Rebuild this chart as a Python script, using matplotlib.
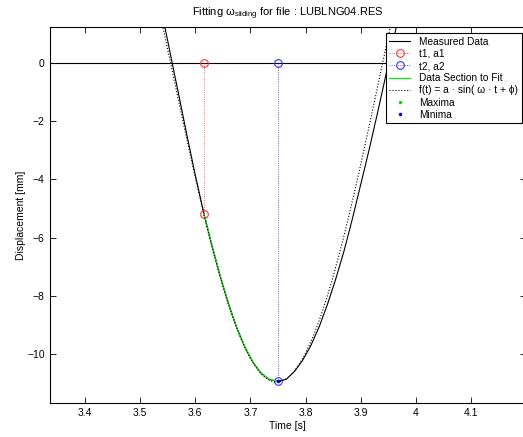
import numpy as np
import matplotlib
matplotlib.use("Agg")
import matplotlib.pyplot as plt

plt.rcParams['font.family'] = ['Liberation Sans', 'DejaVu Sans']
plt.rcParams['mathtext.fontset'] = 'custom'
plt.rcParams['mathtext.rm'] = 'Liberation Sans'
plt.rcParams['mathtext.it'] = 'Liberation Sans:italic'

# measured displacement
time_s = [3.530, 3.540, 3.545, 3.550, 3.558, 3.570, 3.585, 3.600, 3.616, 3.630, 3.645,
          3.660, 3.675, 3.690, 3.705, 3.720, 3.735, 3.750, 3.765, 3.780, 3.795,
          3.810, 3.825, 3.840, 3.855, 3.870, 3.885, 3.900, 3.915, 3.930, 3.945,
          3.960, 3.975, 3.990]
disp_mm = [2.60, 1.70, 1.20, 0.75, 0.00, -1.10, -2.50, -3.85, -5.20, -6.25, -7.30,
           -8.25, -9.07, -9.75, -10.28, -10.66, -10.87, -10.92, -10.86, -10.59, -10.20,
           -9.69, -9.05, -8.28, -7.41, -6.45, -5.36, -4.19, -3.02, -1.78, -0.50,
           0.81, 2.10, 3.30]

# fit section bounds
t1, a1 = 3.616, -5.20
t2, a2 = 3.750, -10.92

# fitted sine parameters f(t) = a*sin(w*t + phi)
fit_a = 10.95
fit_w = 8.16
fit_phi = -np.pi / 2 - fit_w * 3.7475

maxima_t, maxima_y = [], []
minima_t, minima_y = [3.750], [-10.92]

fig = plt.figure(figsize=(5.23, 4.37), dpi=100)
ax = fig.add_axes([49.5 / 523, (437 - 403.3) / 437, (526 - 49.5) / 523, (403.3 - 27.3) / 437])
ax.set_xlim(3.3356, 4.2)
ax.set_ylim(-11.68, 1.21)

ax.axhline(0, color='k', lw=0.8, zorder=1)

t_arr = np.array(time_s)
y_arr = np.array(disp_mm)
ax.plot(t_arr, y_arr, color='k', lw=0.8, label='Measured Data')
ax.plot([t1, t1], [0, a1], ':', color='#ff3333', lw=0.6, marker='o', markersize=5.5,
        markerfacecolor='none', markeredgewidth=0.8, label='t1, a1')
ax.plot([t2, t2], [0, a2], ':', color='#3333ff', lw=0.6, marker='o', markersize=5.5,
        markerfacecolor='none', markeredgewidth=0.8, label='t2, a2')
sec = (t_arr >= t1) & (t_arr <= t2)
ax.plot(t_arr[sec], y_arr[sec], color='#22dd22', lw=1.0, label='Data Section to Fit')

tf = np.linspace(3.3356, 4.2, 400)
ax.plot(tf, fit_a * np.sin(fit_w * tf + fit_phi), ':', color='k', lw=0.8,
        label='f(t) = a · sin( ω · t + ϕ)')
ax.plot(maxima_t, maxima_y, '.', color='#00dd00', markersize=3, label='Maxima')
ax.plot(minima_t, minima_y, '.', color='blue', markersize=3, label='Minima')

ax.set_xticks([3.4, 3.5, 3.6, 3.7, 3.8, 3.9, 4.0, 4.1])
ax.set_xticklabels(['3.4', '3.5', '3.6', '3.7', '3.8', '3.9', '4', '4.1'])
ax.set_yticks([-10, -8, -6, -4, -2, 0])
ax.set_yticklabels(['\u221210', '\u22128', '\u22126', '\u22124', '\u22122', '0'])
ax.tick_params(direction='in', top=True, right=True, labelsize=7.5, length=4, width=0.6)
for s in ax.spines.values():
    s.set_linewidth(0.8)

ax.set_xlabel('Time [s]', fontsize=7.5, labelpad=2)
ax.set_ylabel('Displacement [mm]', fontsize=7.5, labelpad=1)
ax.set_title(r'Fitting $\mathrm{ω}_{\mathrm{sliding}}$ for file : LUBLNG04.RES',
             fontsize=8, pad=8)

leg = ax.legend(loc='upper right', bbox_to_anchor=(0.9912, 0.9848), fontsize=7.3,
                frameon=True, fancybox=False, framealpha=1, edgecolor='k',
                borderpad=0.35, labelspacing=0.22, handlelength=2.0,
                handletextpad=0.95, borderaxespad=0)
leg.get_frame().set_linewidth(0.8)

fig.savefig('out.png', dpi=100)
